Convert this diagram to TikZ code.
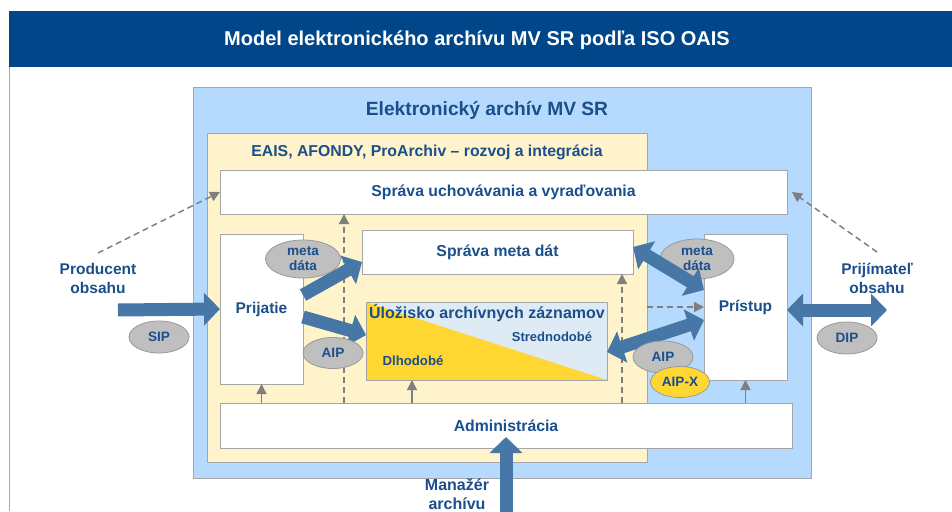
\documentclass[tikz,border=0pt]{standalone}
\usepackage{fontspec}
\setmainfont{Liberation Sans}
\usetikzlibrary{arrows.meta,shapes.geometric}
\definecolor{hdr}{HTML}{02468A}
\definecolor{txt}{HTML}{1A4F8C}
\definecolor{outerblue}{HTML}{B5DAFD}
\definecolor{ylw}{HTML}{FEF3CB}
\definecolor{strlight}{HTML}{DEEAF4}
\definecolor{gold}{HTML}{FFD632}
\definecolor{bord}{HTML}{A6A6A6}
\definecolor{ellg}{HTML}{BFBFBF}
\definecolor{arr}{HTML}{4677A6}
\definecolor{dgray}{HTML}{7F7F7F}
\begin{document}
\begin{tikzpicture}[x=1pt,y=-1pt,
 box/.style={draw=bord, line width=1pt, fill=white, inner sep=0pt, outer sep=0pt, font=\fontsize{15.8}{18}\selectfont\bfseries, text=txt},
 frame/.style={draw=bord, line width=1pt, inner sep=0pt, outer sep=0pt},
 ell/.style={ellipse, draw=dgray!80, line width=0.8pt, fill=ellg, inner sep=0pt, font=\fontsize{13.6}{15}\selectfont\bfseries, text=txt, align=center},
 fatarrow/.style={draw=arr, line width=13pt, -{Triangle[width=32pt,length=16pt]}},
 dblarrow/.style={draw=arr, line width=13pt, {Triangle[width=32pt,length=16pt]}-{Triangle[width=32pt,length=16pt]}},
 dsh/.style={draw=dgray, line width=1.5pt, dash pattern=on 6pt off 4pt, -{Triangle[width=10pt,length=10pt]}},
 upar/.style={draw=dgray, line width=1.5pt, -{Triangle[width=10pt,length=10pt]}},
 lbl/.style={text=txt, font=\fontsize{15.5}{19}\selectfont\bfseries, align=center}
]
\fill[white] (0,0) rectangle (952,511);
\useasboundingbox (0,0) rectangle (952,511);
% header
\fill[hdr] (9,11) rectangle (952,67);
\node[text=white, font=\fontsize{20}{22}\selectfont\bfseries] (title) at (477,40) {Model elektronického archívu MV SR podľa ISO OAIS};
\draw[bord, line width=1pt] (9,67) -- (9,511);
% containers
\node[frame, fill=outerblue, minimum width=618pt, minimum height=391pt] (outer) at (502,282.5) {};
\node[lbl, font=\fontsize{19.2}{22}\selectfont\bfseries] (outertitle) at (487,110) {Elektronický archív MV SR};
\node[frame, fill=ylw, minimum width=440pt, minimum height=329pt] (yellow) at (427,297.5) {};
\node[lbl, font=\fontsize{15.8}{18}\selectfont\bfseries] (ytitle) at (427,152) {EAIS, AFONDY, ProArchiv – rozvoj a integrácia};
% boxes
\node[box, minimum width=567pt, minimum height=44pt] (uchov) at (503.5,192) {Správa uchovávania a vyraďovania};
\node[box, minimum width=83pt, minimum height=150pt, font=\fontsize{15.5}{18}\selectfont\bfseries] (prij) at (261.5,309) {Prijatie};
\node[box, minimum width=271pt, minimum height=44pt] (metadat) at (497.5,252) {Správa meta dát};
\node[box, minimum width=83pt, minimum height=146pt, font=\fontsize{15.5}{18}\selectfont\bfseries] (pristup) at (745.5,307) {Prístup};
\node[box, minimum width=572pt, minimum height=45pt] (admin) at (506,425.5) {Administrácia};
% storage
\node[box, fill=strlight, minimum width=241pt, minimum height=78pt] (stor) at (486.5,341) {};
\fill[gold] (stor.north west) -- (stor.south east) -- (stor.south west) -- cycle;
\draw[bord, line width=1pt] (stor.north west) rectangle (stor.south east);
\node[text=txt, font=\fontsize{16}{18}\selectfont\bfseries] (stortitle) at (487,313) {Úložisko archívnych záznamov};
\node[text=txt, font=\fontsize{13}{15}\selectfont\bfseries] (stred) at (552,337) {Strednodobé};
\node[text=txt, font=\fontsize{13.2}{15}\selectfont\bfseries] (dlho) at (413,361) {Dlhodobé};
% outside labels
\node[lbl] (prod) at (98,278) {Producent\\obsahu};
\node[lbl] (prijim) at (877,278) {Prijímateľ\\obsahu};
\node[lbl, font=\fontsize{16}{19}\selectfont\bfseries] (manazer) at (457,494) {Manažér\\archívu};
% helper coordinates
\coordinate (prodend) at (98,253);
\coordinate (prijend) at (877,252);
\coordinate (v1) at (344,0);
\coordinate (v2) at (622,0);
\coordinate (v3) at (412,0);
\coordinate (h1) at (0,307);
\coordinate (sipstart) at (118,310);
\coordinate (dipend) at (887,310);
\coordinate (mgrstart) at (506,520);
\coordinate (mgrtip) at (506,437);
% dashed connectors
\draw[dsh] (prodend) -- (uchov.west);
\draw[dsh] (prijend) -- ([xshift=5pt]uchov.east);
\draw[dsh] (v1 |- admin.north) -- (v1 |- uchov.south);
\draw[dsh] (v2 |- admin.north) -- (v2 |- metadat.south);
\draw[dsh] (yellow.east |- h1) -- (pristup.west |- h1);
% small solid arrows
\draw[upar] (prij.south |- admin.north) -- (prij.south);
\draw[upar] (v3 |- admin.north) -- (v3 |- stor.south);
\draw[upar] (pristup.south |- admin.north) -- (pristup.south);
% ellipse under right arrow
\node[ell, minimum width=74pt, minimum height=40pt] (metaR) at (697,259) {meta\\dáta};
% thick arrows
\draw[fatarrow] (sipstart) -- (prij.west);
\draw[fatarrow] ([yshift=14pt]prij.east) -- ([yshift=-10pt]metadat.west);
\draw[fatarrow] ([yshift=-8pt]prij.east) -- ([yshift=6pt]stor.west);
\draw[dblarrow] ([yshift=5pt]metadat.east) -- ([yshift=17pt]pristup.west);
\draw[dblarrow] ([yshift=-11pt]stor.east) -- ([yshift=-13pt]pristup.west);
\draw[dblarrow] ([yshift=-3pt]pristup.east) -- (dipend);
\draw[fatarrow] (mgrstart) -- (mgrtip);
% ellipses
\node[ell, minimum width=60pt, minimum height=32pt] (sip) at (159,337) {SIP};
\node[ell, minimum width=75pt, minimum height=38pt] (metaL) at (303,259) {meta\\dáta};
\node[ell, minimum width=60pt, minimum height=31pt] (aipL) at (333,353) {AIP};
\node[ell, minimum width=60pt, minimum height=32pt] (aipR) at (663,357) {AIP};
\node[ell, fill=gold, minimum width=59pt, minimum height=31pt] (aipx) at (680,382) {AIP-X};
\node[ell, minimum width=60pt, minimum height=32pt] (dip) at (847,338) {DIP};
\end{tikzpicture}
\end{document}
